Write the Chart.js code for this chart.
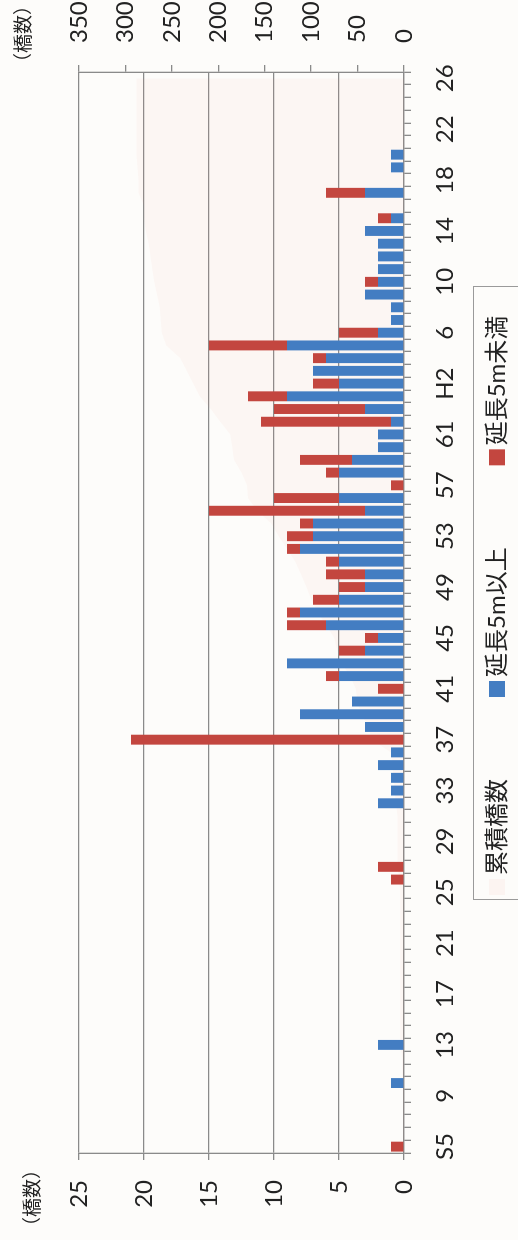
<!DOCTYPE html>
<html>
<head>
<meta charset="utf-8">
<script src="https://cdn.jsdelivr.net/npm/chart.js@4"></script>
<style>
  html, body { margin: 0; padding: 0; background: #fdfcfa; overflow: hidden; }
  body { width: 518px; height: 1240px; position: relative; }
  /* chart is drawn landscape, then turned a quarter left like the scan */
  #wrap {
    position: absolute; left: 0; top: 0;
    width: 1240px; height: 518px;
    transform-origin: 0 0;
    transform: translateY(1240px) rotate(-90deg);
  }
</style>
</head>
<body>
<div id="wrap"><canvas id="myChart" width="1240" height="518" style="width:1240px;height:518px"></canvas></div>
<script>
// Data --------------------------------------------------
// S5 (1930) ... S63, H1 ... H26 (2014)
const categories = [
  'S5', '6', '7', '8', '9', '10', '11', '12', '13', '14',
  '15', '16', '17', '18', '19', '20', '21', '22', '23', '24',
  '25', '26', '27', '28', '29', '30', '31', '32', '33', '34',
  '35', '36', '37', '38', '39', '40', '41', '42', '43', '44',
  '45', '46', '47', '48', '49', '50', '51', '52', '53', '54',
  '55', '56', '57', '58', '59', '60', '61', '62', '63', 'H1',
  'H2', '3', '4', '5', '6', '7', '8', '9', '10', '11',
  '12', '13', '14', '15', '16', '17', '18', '19', '20', '21',
  '22', '23', '24', '25', '26'
];

// 延長5m以上
const over5m = [
  0, 0, 0, 0, 0, 1, 0, 0, 2, 0,
  0, 0, 0, 0, 0, 0, 0, 0, 0, 0,
  0, 0, 0, 0, 0, 0, 0, 2, 1, 1,
  2, 1, 0, 3, 8, 4, 0, 5, 9, 3,
  2, 6, 8, 5, 3, 3, 5, 8, 7, 7,
  3, 5, 0, 5, 4, 2, 2, 1, 3, 9,
  5, 7, 6, 9, 2, 1, 1, 3, 2, 2,
  2, 2, 3, 1, 0, 3, 0, 1, 1, 0,
  0, 0, 0, 0, 0
];

// 延長5m未満
const under5m = [
  1, 0, 0, 0, 0, 0, 0, 0, 0, 0,
  0, 0, 0, 0, 0, 0, 0, 0, 0, 0,
  0, 1, 2, 0, 0, 0, 0, 0, 0, 0,
  0, 0, 21, 0, 0, 0, 2, 1, 0, 2,
  1, 3, 1, 2, 2, 3, 1, 1, 2, 1,
  12, 5, 1, 1, 4, 0, 0, 10, 7, 3,
  2, 0, 1, 6, 3, 0, 0, 0, 1, 0,
  0, 0, 0, 1, 0, 3, 0, 0, 0, 0,
  0, 0, 0, 0, 0
];

// 累積橋数 (right axis)
const cumulative = [
  1, 1, 1, 1, 1, 2, 2, 2, 4, 4,
  4, 4, 4, 4, 4, 4, 4, 4, 4, 4,
  4, 5, 7, 7, 7, 7, 7, 9, 10, 11,
  13, 14, 35, 38, 46, 50, 52, 58, 67, 72,
  75, 84, 93, 100, 105, 111, 117, 126, 135, 143,
  158, 168, 169, 175, 183, 185, 187, 198, 208, 220,
  227, 234, 241, 256, 261, 262, 263, 266, 269, 271,
  273, 275, 278, 280, 280, 286, 286, 287, 288, 288,
  288, 288, 288, 288, 288
];

const leftTicks = [0, 5, 10, 15, 20, 25];
const rightTicks = [0, 50, 100, 150, 200, 250, 300, 350];

// Chart -------------------------------------------------
const fontFamily = "Lato, 'Noto Sans CJK JP', sans-serif";
Chart.defaults.font.family = fontFamily;
Chart.defaults.font.size = 24;
Chart.defaults.color = '#222';

const gridGrey = '#8a8a8a';

// axis titles and boxed legend
const extras = {
    id: 'extras',
    afterDraw(chart) {
        const ctx = chart.ctx;
        ctx.save();
        ctx.fillStyle = '#222';
        ctx.font = "19px 'Noto Sans CJK JP', sans-serif";
        ctx.textAlign = 'center';
        ctx.textBaseline = 'middle';
        ctx.fillText('（橋数）', 42, 32);
        ctx.fillText('（橋数）', 1206, 23);

        // legend
        ctx.strokeStyle = '#9a9a9a';
        ctx.lineWidth = 1;
        ctx.strokeRect(340.5, 473.5, 613, 70);

        ctx.font = '24px ' + fontFamily;
        ctx.textAlign = 'left';
        const y = 497;
        let x = 345;
        chart.data.datasets.forEach(ds => {
            ctx.fillStyle = ds.legendColor;
            ctx.fillRect(x, y - 8, 16, 16);
            x += 20;
            ctx.fillStyle = '#222';
            ctx.fillText(ds.label, x, y);
            x += ctx.measureText(ds.label).width + 82;
        });
        ctx.restore();
    }
};

const data = {
    labels: categories,
    datasets: [{
        type: 'line',
        label: '累積橋数',
        data: cumulative,
        yAxisID: 'y1',
        fill: 'origin',
        backgroundColor: 'rgba(236,150,140,0.06)',
        legendColor: 'rgba(236,150,140,0.08)',
        borderColor: 'rgba(0,0,0,0)',
        borderWidth: 0,
        pointRadius: 0
    }, {
        type: 'bar',
        label: '延長5m以上',
        data: over5m,
        yAxisID: 'y',
        stack: 'bridges',
        backgroundColor: '#437dc2',
        legendColor: '#437dc2',
        barPercentage: 0.78,
        categoryPercentage: 1.0
    }, {
        type: 'bar',
        label: '延長5m未満',
        data: under5m,
        yAxisID: 'y',
        stack: 'bridges',
        backgroundColor: '#c3463f',
        legendColor: '#c3463f',
        barPercentage: 0.78,
        categoryPercentage: 1.0
    }]
};

const options = {
    responsive: false,
    animation: false,
    layout: {
        padding: { top: 79, bottom: 54, left: 0, right: 0 }
    },
    plugins: {
        legend: { display: false },
        tooltip: { enabled: false },
        filler: { drawTime: 'beforeDatasetsDraw' }
    },
    scales: {
        x: {
            stacked: true,
            offset: true,
            grid: {
                offset: true,
                drawOnChartArea: false,
                tickLength: 7,
                color: gridGrey,
                lineWidth: 1.3
            },
            border: { color: gridGrey, width: 1.3 },
            ticks: {
                autoSkip: false,
                maxRotation: 0,
                minRotation: 0,
                padding: 20,
                callback: (v, i) => i % 4 === 0 ? categories[i] : ''
            },
            afterFit: s => { s.height = 60; }
        },
        y: {
            position: 'left',
            stacked: true,
            min: leftTicks[0],
            max: leftTicks[leftTicks.length - 1],
            afterBuildTicks: s => { s.ticks = leftTicks.map(v => ({ value: v })); },
            ticks: { padding: 20 },
            grid: { color: gridGrey, lineWidth: 1.3, tickLength: 7 },
            border: { color: gridGrey, width: 1.3 },
            afterFit: s => { s.width = 87; }
        },
        y1: {
            position: 'right',
            min: rightTicks[0],
            max: rightTicks[rightTicks.length - 1],
            afterBuildTicks: s => { s.ticks = rightTicks.map(v => ({ value: v })); },
            ticks: { padding: 22 },
            grid: { drawOnChartArea: false, color: gridGrey, lineWidth: 1.3, tickLength: 7 },
            border: { color: gridGrey, width: 1.3 },
            afterFit: s => { s.width = 72; }
        }
    }
};

const config = {
    type: 'bar',
    data,
    options,
    plugins: [extras]
};

const myChart = new Chart(
    document.getElementById('myChart'),
    config
);
</script>
</body>
</html>
